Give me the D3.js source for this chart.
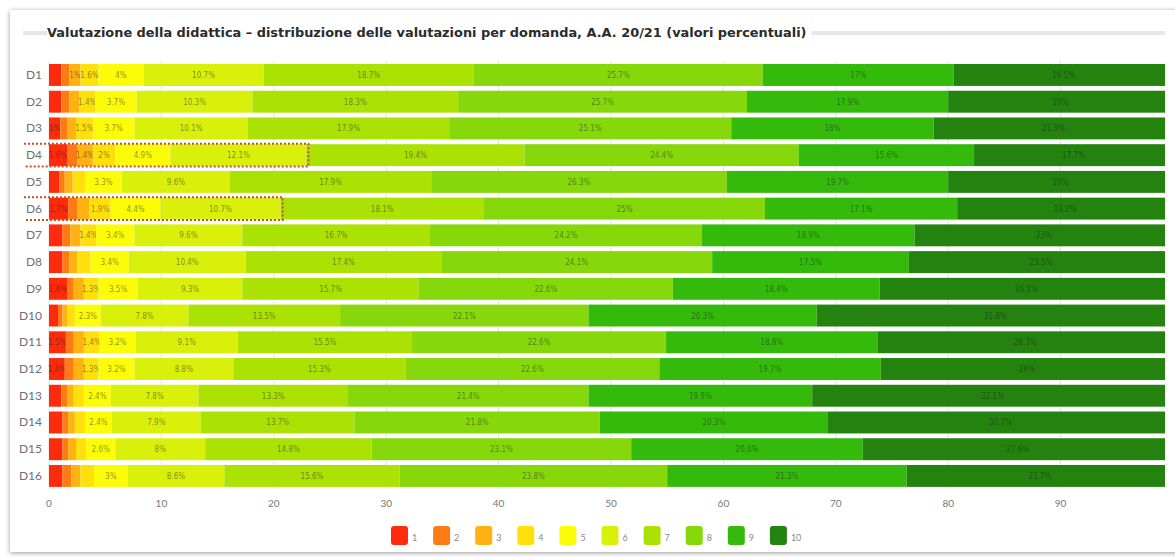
<!DOCTYPE html>
<meta charset="utf-8">
<head>
    <title>Valutazione della didattica</title>
    <script src="https://cdn.jsdelivr.net/npm/d3@7"></script>
    <style>
        body { margin: 0; background: white; }
        svg { display: block; }
    </style>
</head>
<body>
<script>
    // questions (rows) and rating levels (series)
    const domande = ["D1","D2","D3","D4","D5","D6","D7","D8","D9","D10","D11","D12","D13","D14","D15","D16"]
    const voti = ["1","2","3","4","5","6","7","8","9","10"]
    const colori = ["#fe2a0c","#fe7a12","#ffb212","#ffe00c","#fdfc08","#d9f00a","#abe203","#86d80a","#33ba0b","#24830f"]

    // percentage of each rating, one array per rating, in row order D1..D16
    const voto1  = [1.1,1.1,1.0,1.6,0.9,1.7,1.2,1.2,1.6,0.8,1.5,1.4,1.1,1.2,1.2,1.2]
    const voto2  = [0.7,0.7,0.6,0.9,0.5,0.8,0.7,0.6,0.6,0.4,0.7,0.8,0.5,0.5,0.5,0.8]
    const voto3  = [1.0,0.9,0.8,1.4,0.7,1.1,0.9,0.7,0.9,0.4,0.9,0.9,0.6,0.6,0.7,0.8]
    const voto4  = [1.6,1.4,1.5,2.0,1.1,1.9,1.4,1.2,1.3,0.7,1.4,1.3,0.9,0.9,0.9,1.2]
    const voto5  = [4.0,3.7,3.7,4.9,3.3,4.4,3.4,3.4,3.5,2.3,3.2,3.2,2.4,2.4,2.6,3.0]
    const voto6  = [10.7,10.3,10.1,12.1,9.6,10.7,9.6,10.4,9.3,7.8,9.1,8.8,7.8,7.9,8.0,8.6]
    const voto7  = [18.7,18.3,17.9,19.4,17.9,18.1,16.7,17.4,15.7,13.5,15.5,15.3,13.3,13.7,14.8,15.6]
    const voto8  = [25.7,25.7,25.1,24.4,26.3,25.0,24.2,24.1,22.6,22.1,22.6,22.6,21.4,21.8,23.1,23.8]
    const voto9  = [17.0,17.9,18.0,15.6,19.7,17.1,18.9,17.5,18.4,20.3,18.8,19.7,19.9,20.3,20.6,21.3]
    const voto10 = [19.5,20.0,21.3,17.7,20.0,19.2,23.0,23.5,26.1,31.8,26.3,26.0,32.1,30.7,27.6,23.7]

    // rows outlined with a dotted box (ratings 1-6)
    const evidenziate = ["D4","D6"]
    const xTicks = [0,10,20,30,40,50,60,70,80,90]

    const series = [voto1,voto2,voto3,voto4,voto5,voto6,voto7,voto8,voto9,voto10]

    w = 1175
    h = 557

    let svg = d3.select("body").append("svg")
        .attr("width", w)
        .attr("height", h)

    // card with shadow
    let defs = svg.append("defs")
    defs.append("filter").attr("id", "shadow")
        .attr("x", "-5%").attr("y", "-5%").attr("width", "110%").attr("height", "110%")
        .append("feDropShadow")
        .attr("dx", 0).attr("dy", 1).attr("stdDeviation", 2.5)
        .attr("flood-color", "#000").attr("flood-opacity", 0.4)
    defs.append("clipPath").attr("id", "plotClip")
        .append("rect").attr("x", 0).attr("y", 0).attr("width", 1165).attr("height", h)

    svg.append("rect")
        .attr("x", 10).attr("y", 10)
        .attr("width", 1200).attr("height", 542)
        .attr("fill", "white")
        .attr("filter", "url(#shadow)")

    // title with grey rule behind it
    svg.append("rect")
        .attr("x", 23).attr("y", 31)
        .attr("width", 1142).attr("height", 4)
        .attr("fill", "#e6e6e6")
    let titleBg = svg.append("rect").attr("fill", "white")
    let title = svg.append("text")
        .attr("x", 47).attr("y", 37)
        .attr("font-family", "DejaVu Sans")
        .attr("font-weight", "bold")
        .attr("font-size", "12.9px")
        .attr("fill", "#2b2b2b")
        .text("Valutazione della didattica \u2013 distribuzione delle valutazioni per domanda, A.A. 20/21 (valori percentuali)")
    let tb = title.node().getBBox()
    titleBg.attr("x", tb.x).attr("y", 29).attr("width", tb.width + 5).attr("height", 8)

    // scales
    const x = d3.scaleLinear().domain([0, 100]).range([49, 1173])
    const y = d3.scaleBand().domain(domande).range([61.6, 489.3]).paddingInner(0.18).paddingOuter(0.09)

    // grid
    svg.append("g").selectAll("line")
        .data(xTicks)
        .enter().append("line")
        .attr("x1", d => x(d)).attr("x2", d => x(d))
        .attr("y1", 61).attr("y2", 489)
        .attr("stroke", "#e3e3e3")
        .attr("stroke-width", 1)

    // stacked data
    let stack = d3.stack().keys(d3.range(voti.length)).value((d, k) => series[k][d])
    let stacked = stack(d3.range(domande.length))

    let plot = svg.append("g").attr("clip-path", "url(#plotClip)")

    let layers = plot.selectAll("g.layer")
        .data(stacked)
        .enter().append("g")
        .attr("class", "layer")
        .attr("fill", (d, i) => colori[i])

    layers.selectAll("rect")
        .data(d => d)
        .enter().append("rect")
        .attr("x", d => x(d[0]))
        .attr("y", d => y(domande[d.data]))
        .attr("width", d => x(d[1]) - x(d[0]))
        .attr("height", y.bandwidth())

    // label text and rough width (narrow font) to hide labels that do not fit
    function fmt(v){ return (+v.toFixed(1)) + "%" }
    function labelWidth(s){
        let wd = 0
        for (let c of s){
            if (c === ".") wd += 1.8
            else if (c === "%") wd += 5.8
            else wd += 3.65
        }
        return wd
    }

    layers.selectAll("text")
        .data(d => d.filter(p => labelWidth(fmt(p[1]-p[0])) <= x(p[1]) - x(p[0]) + 1))
        .enter().append("text")
        .attr("x", d => (x(d[0]) + x(d[1])) / 2)
        .attr("y", d => y(domande[d.data]) + y.bandwidth() / 2 + 3)
        .attr("text-anchor", "middle")
        .attr("font-family", "'Liberation Sans Narrow', 'DejaVu Sans Condensed', sans-serif")
        .attr("font-size", "8px")
        .attr("fill", "#1e1e1e")
        .attr("fill-opacity", 0.5)
        .text(d => fmt(d[1]-d[0]))

    // dotted highlight boxes around ratings 1-6
    evidenziate.forEach(function(q){
        let i = domande.indexOf(q)
        let end = x(stacked[5][i][1]) + 2
        let top = y(q) - 0.5
        let bot = y(q) + y.bandwidth() + 0.5
        svg.append("path")
            .attr("d", "M24," + top + "H" + end + "V" + bot + "H24")
            .attr("fill", "none")
            .attr("stroke", "#c8501e")
            .attr("stroke-width", 2)
            .attr("stroke-dasharray", "2,2")
    })

    // row labels
    svg.append("g").selectAll("text")
        .data(domande)
        .enter().append("text")
        .attr("x", 42)
        .attr("y", d => y(d) + y.bandwidth() / 2 + 4)
        .attr("text-anchor", "end")
        .attr("font-family", "Lato, sans-serif")
        .attr("font-size", "12px")
        .attr("fill", "#707070")
        .text(d => d)

    // x axis labels
    svg.append("g").selectAll("text")
        .data(xTicks)
        .enter().append("text")
        .attr("x", d => x(d))
        .attr("y", 507)
        .attr("text-anchor", "middle")
        .attr("font-family", "Lato, sans-serif")
        .attr("font-size", "10px")
        .attr("fill", "#777")
        .text(d => d)

    // legend
    let legend = svg.append("g").selectAll("g")
        .data(voti)
        .enter().append("g")
        .attr("transform", (d, i) => "translate(" + (391 + i * 42.1) + ",526)")
    legend.append("rect")
        .attr("width", 17).attr("height", 19)
        .attr("rx", 3)
        .attr("fill", (d, i) => colori[i])
    legend.append("text")
        .attr("x", 21).attr("y", 15)
        .attr("font-family", "Lato, sans-serif")
        .attr("font-size", "9px")
        .attr("fill", "#888")
        .text(d => d)
</script>
</body>
</html>
